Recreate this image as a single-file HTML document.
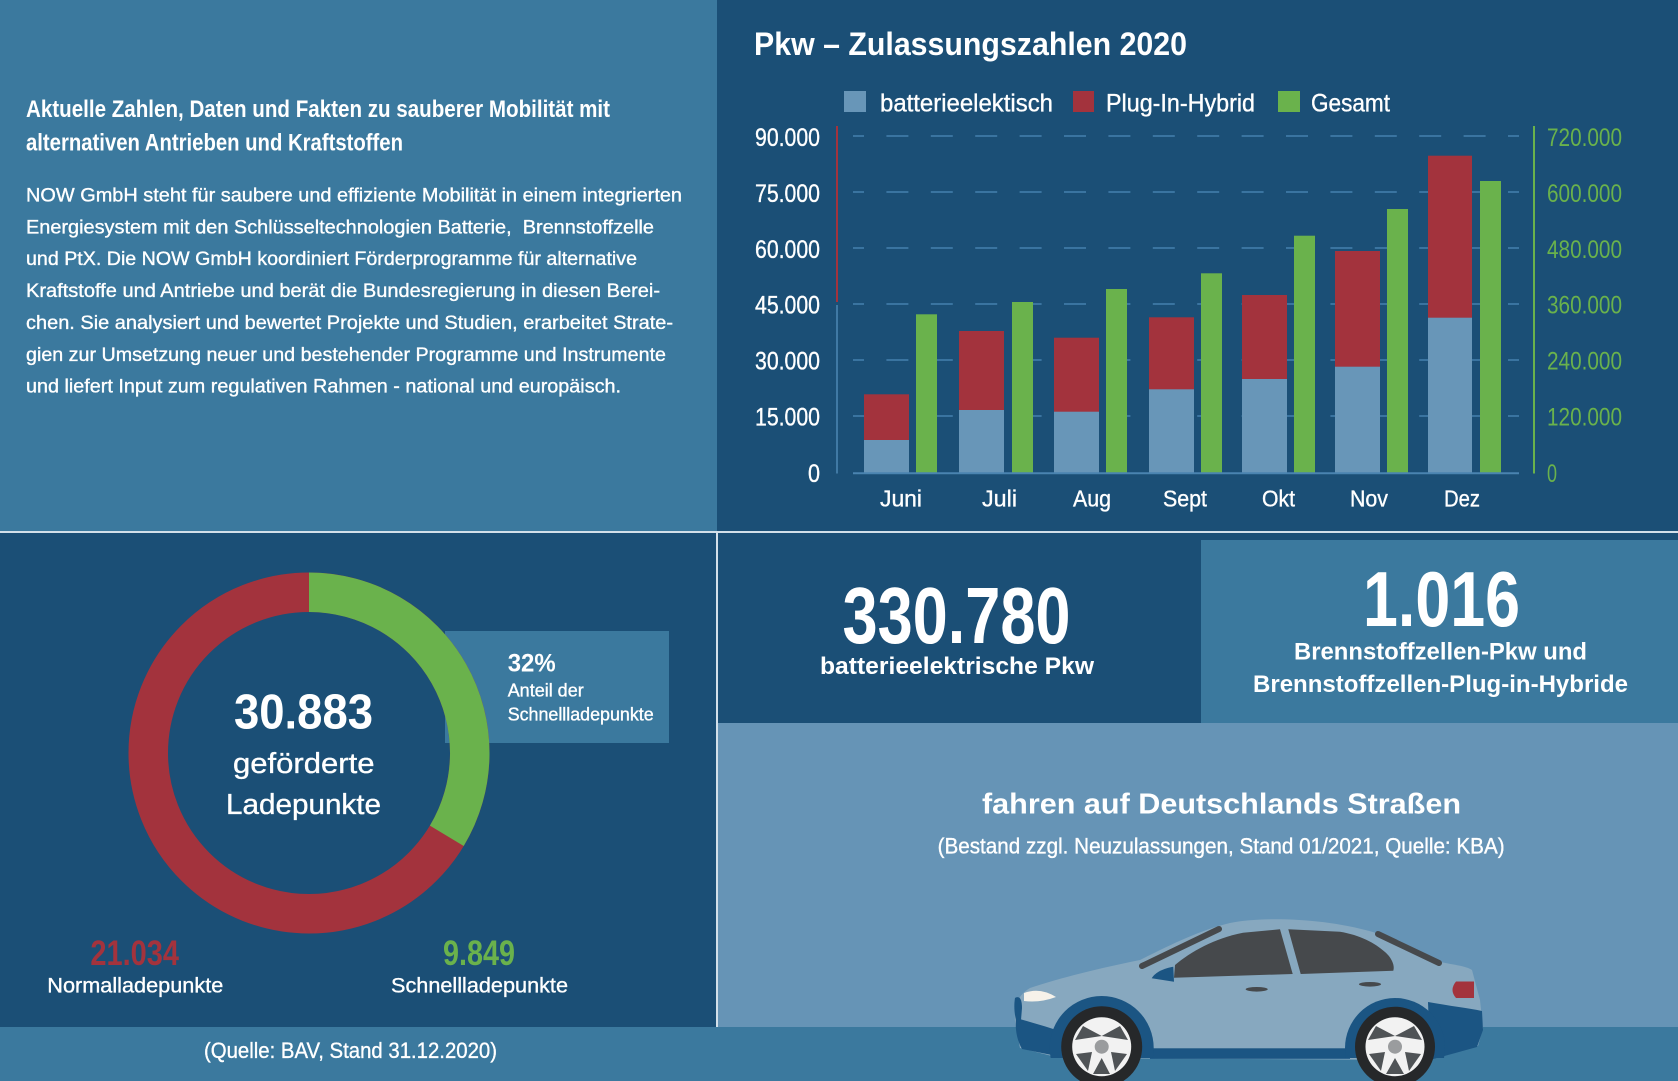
<!DOCTYPE html>
<html><head><meta charset="utf-8"><style>
html,body{margin:0;padding:0;background:#1b4f76;}
svg{display:block;}
.t{font-family:"Liberation Sans",Arial,sans-serif;fill:#fff;white-space:pre;}
.b{font-weight:bold;}
.m{stroke:#fff;stroke-width:0.35px;}
.g{fill:#6ab24c;}
</style></head><body>
<svg width="1678" height="1081" viewBox="0 0 1678 1081" xmlns="http://www.w3.org/2000/svg">
<defs>
<clipPath id="archclip"><rect x="0" y="0" width="1678" height="1058"/></clipPath>
</defs>
<!-- backgrounds -->
<rect x="0" y="0" width="1678" height="1081" fill="#1b4f76"/>
<rect x="0" y="0" width="717" height="531" fill="#3b799e"/>
<rect x="718" y="723" width="960" height="304" fill="#6694b6"/>
<rect x="1201" y="540" width="477" height="183" fill="#3b799e"/>
<rect x="0" y="1027" width="1678" height="54" fill="#3b799e"/>
<rect x="0" y="531" width="1678" height="2" fill="#d3e0ea"/>
<rect x="716" y="533" width="2" height="494" fill="#d3e0ea"/>

<!-- top-left text -->
<text class="t b" x="26" y="117" font-size="24" textLength="584" lengthAdjust="spacingAndGlyphs">Aktuelle Zahlen, Daten und Fakten zu sauberer Mobilität mit</text>
<text class="t b" x="26" y="150.5" font-size="24" textLength="377" lengthAdjust="spacingAndGlyphs">alternativen Antrieben und Kraftstoffen</text>
<g font-size="19.5">
<text class="t m" x="26" y="201.4" textLength="656" lengthAdjust="spacingAndGlyphs">NOW GmbH steht für saubere und effiziente Mobilität in einem integrierten</text>
<text class="t m" x="26" y="233.5" textLength="628" lengthAdjust="spacingAndGlyphs">Energiesystem mit den Schlüsseltechnologien Batterie,  Brennstoffzelle</text>
<text class="t m" x="26" y="265" textLength="611" lengthAdjust="spacingAndGlyphs">und PtX. Die NOW GmbH koordiniert Förderprogramme für alternative</text>
<text class="t m" x="26" y="297" textLength="634" lengthAdjust="spacingAndGlyphs">Kraftstoffe und Antriebe und berät die Bundesregierung in diesen Berei-</text>
<text class="t m" x="26" y="329" textLength="647" lengthAdjust="spacingAndGlyphs">chen. Sie analysiert und bewertet Projekte und Studien, erarbeitet Strate-</text>
<text class="t m" x="26" y="361" textLength="640" lengthAdjust="spacingAndGlyphs">gien zur Umsetzung neuer und bestehender Programme und Instrumente</text>
<text class="t m" x="26" y="392.6" textLength="595" lengthAdjust="spacingAndGlyphs">und liefert Input zum regulativen Rahmen - national und europäisch.</text>
</g>

<!-- chart title & legend -->
<text class="t b" x="754" y="55" font-size="32" textLength="433" lengthAdjust="spacingAndGlyphs">Pkw – Zulassungszahlen 2020</text>
<rect x="844" y="91" width="22" height="21" fill="#6896b8"/>
<text class="t m" x="880" y="111.7" font-size="25" textLength="173" lengthAdjust="spacingAndGlyphs">batterieelektisch</text>
<rect x="1073" y="91" width="21" height="21" fill="#a3333d"/>
<text class="t m" x="1106" y="111.7" font-size="25" textLength="149" lengthAdjust="spacingAndGlyphs">Plug-In-Hybrid</text>
<rect x="1278" y="91" width="22" height="21" fill="#6ab24c"/>
<text class="t m" x="1311" y="111.7" font-size="25" textLength="79" lengthAdjust="spacingAndGlyphs">Gesamt</text>

<!-- gridlines -->
<g stroke="#4580ad" stroke-width="1.6" stroke-dasharray="22 22.4" stroke-dashoffset="11" fill="none">
<line x1="853" y1="136" x2="1519" y2="136"/>
<line x1="853" y1="192" x2="1519" y2="192"/>
<line x1="853" y1="248" x2="1519" y2="248"/>
<line x1="853" y1="304" x2="1519" y2="304"/>
<line x1="853" y1="360" x2="1519" y2="360"/>
<line x1="853" y1="416" x2="1519" y2="416"/>
</g>

<!-- bars -->
<g>
<rect x="864" y="394.3" width="45" height="78.7" fill="#a3333d"/><rect x="864" y="440" width="45" height="33" fill="#6896b8"/><rect x="916" y="314.3" width="21" height="158.7" fill="#6ab24c"/>
<rect x="959" y="331" width="45" height="142" fill="#a3333d"/><rect x="959" y="410" width="45" height="63" fill="#6896b8"/><rect x="1012" y="302" width="21" height="171" fill="#6ab24c"/>
<rect x="1054" y="337.7" width="45" height="135.3" fill="#a3333d"/><rect x="1054" y="411.7" width="45" height="61.3" fill="#6896b8"/><rect x="1106" y="289" width="21" height="184" fill="#6ab24c"/>
<rect x="1149" y="317.3" width="45" height="155.7" fill="#a3333d"/><rect x="1149" y="389.3" width="45" height="83.7" fill="#6896b8"/><rect x="1201" y="273.3" width="21" height="199.7" fill="#6ab24c"/>
<rect x="1242" y="295" width="45" height="178" fill="#a3333d"/><rect x="1242" y="379" width="45" height="94" fill="#6896b8"/><rect x="1294" y="235.7" width="21" height="237.3" fill="#6ab24c"/>
<rect x="1335" y="251" width="45" height="222" fill="#a3333d"/><rect x="1335" y="366.7" width="45" height="106.3" fill="#6896b8"/><rect x="1387" y="209" width="21" height="264" fill="#6ab24c"/>
<rect x="1428" y="155.7" width="44" height="317.3" fill="#a3333d"/><rect x="1428" y="317.7" width="44" height="155.3" fill="#6896b8"/><rect x="1480" y="181" width="21" height="292" fill="#6ab24c"/>
</g>
<line x1="853" y1="473.3" x2="1519" y2="473.3" stroke="#4a84b0" stroke-width="2"/>

<!-- axes -->
<line x1="837" y1="126" x2="837" y2="302" stroke="#a3333d" stroke-width="2"/>
<line x1="837" y1="305" x2="837" y2="473.5" stroke="#4a84b0" stroke-width="1.6"/>
<line x1="1534" y1="126" x2="1534" y2="473.5" stroke="#6ab24c" stroke-width="2"/>

<!-- left axis labels -->
<g font-size="25">
<text class="t m" x="755" y="146" textLength="65" lengthAdjust="spacingAndGlyphs">90.000</text>
<text class="t m" x="755" y="202" textLength="65" lengthAdjust="spacingAndGlyphs">75.000</text>
<text class="t m" x="755" y="258" textLength="65" lengthAdjust="spacingAndGlyphs">60.000</text>
<text class="t m" x="755" y="313.5" textLength="65" lengthAdjust="spacingAndGlyphs">45.000</text>
<text class="t m" x="755" y="369.5" textLength="65" lengthAdjust="spacingAndGlyphs">30.000</text>
<text class="t m" x="755" y="425.5" textLength="65" lengthAdjust="spacingAndGlyphs">15.000</text>
<text class="t m" x="808" y="482" textLength="12" lengthAdjust="spacingAndGlyphs">0</text>
</g>
<!-- right axis labels -->
<g font-size="25">
<text class="t g" x="1547" y="146" textLength="75" lengthAdjust="spacingAndGlyphs">720.000</text>
<text class="t g" x="1547" y="202" textLength="75" lengthAdjust="spacingAndGlyphs">600.000</text>
<text class="t g" x="1547" y="258" textLength="75" lengthAdjust="spacingAndGlyphs">480.000</text>
<text class="t g" x="1547" y="313.5" textLength="75" lengthAdjust="spacingAndGlyphs">360.000</text>
<text class="t g" x="1547" y="369.5" textLength="75" lengthAdjust="spacingAndGlyphs">240.000</text>
<text class="t g" x="1547" y="425.5" textLength="75" lengthAdjust="spacingAndGlyphs">120.000</text>
<text class="t g" x="1547" y="482" textLength="10" lengthAdjust="spacingAndGlyphs">0</text>
</g>
<!-- month labels -->
<g font-size="23.5">
<text class="t m" x="880" y="506.7" textLength="42" lengthAdjust="spacingAndGlyphs">Juni</text>
<text class="t m" x="982" y="506.7" textLength="35" lengthAdjust="spacingAndGlyphs">Juli</text>
<text class="t m" x="1073" y="506.7" textLength="38" lengthAdjust="spacingAndGlyphs">Aug</text>
<text class="t m" x="1163" y="506.7" textLength="44" lengthAdjust="spacingAndGlyphs">Sept</text>
<text class="t m" x="1262" y="506.7" textLength="33" lengthAdjust="spacingAndGlyphs">Okt</text>
<text class="t m" x="1350" y="506.7" textLength="38" lengthAdjust="spacingAndGlyphs">Nov</text>
<text class="t m" x="1444" y="506.7" textLength="36" lengthAdjust="spacingAndGlyphs">Dez</text>
</g>

<!-- donut -->
<rect x="445" y="631" width="224" height="112" fill="#3b799e"/>
<circle cx="309" cy="753" r="160.75" fill="none" stroke="#a3333d" stroke-width="39.5"/>
<path d="M309,572.5 A180.5,180.5 0 0 1 463.7,846 L429.9,825.6 A141,141 0 0 0 309,612 Z" fill="#6ab24c"/>
<text class="t b" x="507.7" y="671.7" font-size="25" textLength="48" lengthAdjust="spacingAndGlyphs">32%</text>
<text class="t m" x="507.7" y="696.7" font-size="18" textLength="76" lengthAdjust="spacingAndGlyphs">Anteil der</text>
<text class="t m" x="507.7" y="720.7" font-size="18" textLength="146" lengthAdjust="spacingAndGlyphs">Schnellladepunkte</text>
<text class="t b" x="234" y="728.3" font-size="49" textLength="139" lengthAdjust="spacingAndGlyphs">30.883</text>
<text class="t m" x="233" y="773" font-size="29" textLength="141.5" lengthAdjust="spacingAndGlyphs">geförderte</text>
<text class="t m" x="226" y="814" font-size="29" textLength="155" lengthAdjust="spacingAndGlyphs">Ladepunkte</text>

<text class="t b" x="90.4" y="965" font-size="35" textLength="88.6" lengthAdjust="spacingAndGlyphs" style="fill:#a3333d">21.034</text>
<text class="t m" x="47.3" y="992.7" font-size="21.5" textLength="176" lengthAdjust="spacingAndGlyphs">Normalladepunkte</text>
<text class="t b" x="443" y="965" font-size="35" textLength="72" lengthAdjust="spacingAndGlyphs" style="fill:#6ab24c">9.849</text>
<text class="t m" x="391" y="992.7" font-size="21.5" textLength="177" lengthAdjust="spacingAndGlyphs">Schnellladepunkte</text>
<text class="t m" x="204" y="1058" font-size="22" textLength="293" lengthAdjust="spacingAndGlyphs">(Quelle: BAV, Stand 31.12.2020)</text>

<!-- bottom right stats -->
<text class="t b" x="842.5" y="643" font-size="80" textLength="228" lengthAdjust="spacingAndGlyphs">330.780</text>
<text class="t b" x="820" y="674" font-size="24" textLength="274" lengthAdjust="spacingAndGlyphs">batterieelektrische Pkw</text>
<text class="t b" x="1363" y="626" font-size="78" textLength="157" lengthAdjust="spacingAndGlyphs">1.016</text>
<text class="t b" x="1294" y="659.3" font-size="24" textLength="293" lengthAdjust="spacingAndGlyphs">Brennstoffzellen-Pkw und</text>
<text class="t b" x="1253" y="692" font-size="24" textLength="375" lengthAdjust="spacingAndGlyphs">Brennstoffzellen-Plug-in-Hybride</text>

<text class="t b" x="982" y="813.3" font-size="29" textLength="479" lengthAdjust="spacingAndGlyphs">fahren auf Deutschlands Straßen</text>
<text class="t m" x="937.6" y="853.3" font-size="22" textLength="567" lengthAdjust="spacingAndGlyphs">(Bestand zzgl. Neuzulassungen, Stand 01/2021, Quelle: KBA)</text>

<!-- car -->
<g>
<path d="M1015,1022 C1014,1005 1018,995 1030,988 C1060,978 1100,968 1140,960 C1170,945 1200,930 1230,923 C1260,917 1320,917 1373,932 C1400,942 1420,952 1440,962 C1455,965 1466,966 1472,970 L1480,1000 L1483,1028 L1478,1046 L1430,1060 L1060,1058 L1020,1048 Z" fill="#87a8bf"/>
<!-- lower dark parts -->
<path d="M1016,1018 C1030,1022 1048,1027 1062,1032 L1062,1057 L1022,1049 C1017,1040 1015,1030 1016,1018 Z" fill="#1b5583"/>
<path d="M1015,998 C1020,995 1022,1000 1022,1008 L1021,1020 L1016,1020 C1014,1012 1014,1004 1015,998 Z" fill="#1b5583"/>
<rect x="1150" y="1048.3" width="200" height="10.5" fill="#1b5583"/>
<path d="M1428,1002 C1450,1006 1468,1008 1482,1011 L1483,1030 L1477,1047 L1430,1060 Z" fill="#1b5583"/>
<g clip-path="url(#archclip)">
<circle cx="1101.7" cy="1048" r="52" fill="#1b5583"/>
<circle cx="1395" cy="1048" r="50" fill="#1b5583"/>
</g>
<!-- windows -->
<path d="M1175,965 C1190,952 1215,938 1243,932.7 L1280,929.3 L1292.7,974 L1174,977.7 Z" fill="#46494c"/>
<path d="M1288.3,929.3 L1340,931.7 C1360,935 1375,943 1385,952 C1392,958 1395,966 1393.3,970.7 L1300.7,974 Z" fill="#46494c"/>
<path d="M1151.7,978.3 C1155,972 1165,968 1173.3,966.7 L1174,981.7 Z" fill="#1b5583"/>
<line x1="1142" y1="966" x2="1219" y2="929" stroke="#46494c" stroke-width="6" stroke-linecap="round"/>
<line x1="1378" y1="934" x2="1439" y2="963" stroke="#46494c" stroke-width="6" stroke-linecap="round"/>
<ellipse cx="1256.7" cy="989.3" rx="11" ry="2.3" fill="#46494c"/>
<ellipse cx="1370" cy="984.3" rx="11" ry="2.3" fill="#46494c"/>
<!-- lights -->
<path d="M1024,993 Q1040,987 1056,997 Q1040,1003 1024,1001 Z" fill="#f6f2ea"/>
<path d="M1456,981.5 L1474,981.5 L1474,998 L1456,998 Q1449,990 1456,981.5 Z" fill="#a3333d"/>
<!-- wheels -->
<g>
<circle cx="1101.7" cy="1046.7" r="40.5" fill="#26282a"/>
<circle cx="1101.7" cy="1046.7" r="29.5" fill="#f2f2f2"/>
<g fill="#4f5356">
<polygon points="1101.7,1036 1083,1026 1075,1040"/>
<polygon points="1101.7,1036 1120,1026 1128,1040"/>
<polygon points="1092,1052 1076,1054 1088,1071"/>
<polygon points="1111,1052 1127,1054 1115,1071"/>
<polygon points="1101.7,1058 1093,1074 1110,1074"/>
</g>
<circle cx="1101.7" cy="1046.7" r="7" fill="#9a9c9e"/>
<circle cx="1395" cy="1046.7" r="40" fill="#26282a"/>
<circle cx="1395" cy="1046.7" r="29.5" fill="#f2f2f2"/>
<g fill="#4f5356">
<polygon points="1395,1036 1376,1026 1368,1040"/>
<polygon points="1395,1036 1414,1026 1422,1040"/>
<polygon points="1385,1052 1369,1054 1381,1071"/>
<polygon points="1405,1052 1421,1054 1409,1071"/>
<polygon points="1395,1058 1386,1074 1404,1074"/>
</g>
<circle cx="1395" cy="1046.7" r="7" fill="#9a9c9e"/>
</g>
</g>
</svg>
</body></html>
